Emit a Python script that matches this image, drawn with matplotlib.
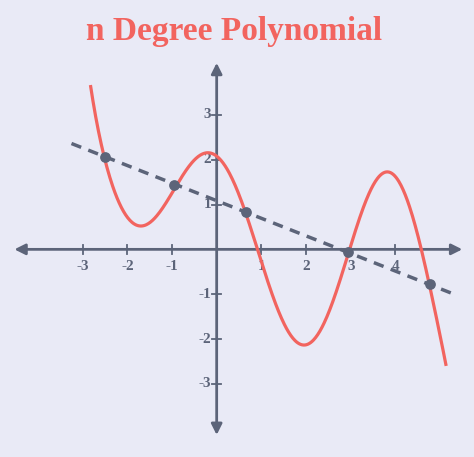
import numpy as np
import matplotlib
matplotlib.use("Agg")
import matplotlib.pyplot as plt

# points
curve_x = [-2.82, -2.69, -2.51, -2.31, -2.09, -1.72, -1.34, -0.96, -0.67, -0.30, 0.0, 0.37, 0.65, 0.90,
           1.27, 1.57, 1.90, 2.31, 2.69, 2.95, 3.28, 3.75, 4.18, 4.40, 4.59, 4.78, 4.96, 5.13]
curve_y = [3.68, 2.75, 2.07, 1.40, 0.88, 0.47, 0.66, 1.44, 1.85, 2.07, 2.0, 1.55, 0.84, 0.0,
           -0.99, -1.81, -2.10, -1.88, -0.99, -0.05, 1.10, 1.59, 1.25, 0.73, 0.0, -0.78, -1.88, -2.51]
# dashed trend line endpoints
line_x = [-3.25, 5.34]
line_y = [2.36, -1.01]
# marked points
dot_x = [-2.51, -0.96, 0.65, 2.95, 4.78]
dot_y = [2.07, 1.44, 0.84, -0.05, -0.78]
x_ticks = [-3, -2, -1, 1, 2, 3, 4]
y_ticks = [-3, -2, -1, 1, 2, 3]

BG = "#e9eaf6"
AX = "#5c6479"
RED = "#f2645f"

fig = plt.figure(figsize=(4.74, 4.57), dpi=100, facecolor=BG)
ax = fig.add_axes([0, 0, 1, 1])
ax.set_facecolor(BG)
ax.set_xlim(-4.85, 5.76)
ax.set_ylim(-4.63, 5.56)
ax.axis("off")

ax.annotate("", xy=(5.56, 0), xytext=(-4.59, 0),
            arrowprops=dict(arrowstyle="<|-|>", color=AX, lw=2, mutation_scale=16))
ax.annotate("", xy=(0, 4.22), xytext=(0, -4.2),
            arrowprops=dict(arrowstyle="<|-|>", color=AX, lw=2, mutation_scale=16))

tf = dict(family=["Liberation Serif", "DejaVu Serif"], weight="bold", color=AX, fontsize=11)
for t in x_ticks:
    ax.plot([t, t], [-0.1, 0.1], color=AX, lw=1.3)
    ax.text(t, -0.38, str(t), ha="center", va="center", **tf)
for t in y_ticks:
    ax.plot([-0.1, 0.1], [t, t], color=AX, lw=1.3)
    ax.text(-0.12, t, str(t), ha="right", va="center", **tf)

# smooth polynomial through read points
xc = np.array(curve_x)
coef = np.polyfit(xc, curve_y, 9)
xs = np.linspace(xc[0], xc[-1], 500)
ax.plot(xs, np.polyval(coef, xs), color=RED, lw=2.3, zorder=3)

ax.plot(line_x, line_y, color=AX, lw=2.5, ls=(0, (3, 2.2)), zorder=4)
ax.scatter(dot_x, dot_y, s=45, color=AX, zorder=5)

ax.text(0.4, 4.85, "n Degree Polynomial", ha="center", va="center",
        family=["Liberation Serif", "DejaVu Serif"], weight="bold", color=RED, fontsize=24)

fig.savefig("out.png", dpi=100, facecolor=BG)
